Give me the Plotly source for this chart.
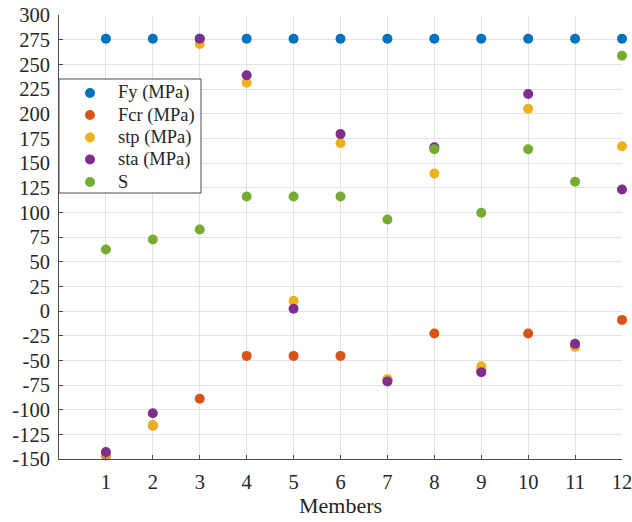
import plotly.graph_objects as go

members = list(range(1, 13))

fy = [276, 276, 276, 276, 276, 276, 276, 276, 276, 276, 276, 276]
fcr = [-146.5, -116, -89, -45.5, -45.5, -45.5, -70, -22.8, -60, -22.8, -35, -9]
stp = [-145, -115.5, 270.6, 231.4, 10.3, 170, -69, 139.4, -56, 205, -36.4, 167]
sta = [-143, -103.7, 276, 239, 2.2, 179.3, -71.5, 166, -62, 220, -33.3, 123.2]
s_vals = [62.4, 72.5, 82.6, 116, 116, 116, 92.8, 164, 99.5, 164, 131, 258.7]

y_ticks = list(range(-150, 301, 25))
y_tick_text = [str(v) for v in y_ticks]

series_names = ["Fy (MPa)", "Fcr (MPa)", "stp (MPa)", "sta (MPa)", "S"]
series_values = [fy, fcr, stp, sta, s_vals]
series_colors = ["#0072BD", "#D95319", "#EDB120", "#7E2F8E", "#77AC30"]

font_family = "Liberation Serif"
text_color = "#262626"
axis_color = "#4d4d4d"

# plot-area geometry in pixels (used to place the boxed legend)
W, H = 632, 522
M_L, M_R, M_T, M_B = 59, 10, 15, 63
plot_w = W - M_L - M_R
plot_h = H - M_T - M_B


def px_x(px):
    return (px - M_L) / plot_w


def px_y(py):
    return (H - M_B - py) / plot_h


fig = go.Figure()
for name, vals, color in zip(series_names, series_values, series_colors):
    fig.add_trace(go.Scatter(
        x=members, y=vals, mode="markers", name=name,
        marker=dict(color=color, size=10, line=dict(width=0)),
        cliponaxis=False, showlegend=False,
    ))

# compact legend box with circle glyphs and labels
shapes = [dict(
    type="rect", xref="paper", yref="paper", layer="above",
    x0=px_x(59), x1=px_x(201), y0=px_y(193), y1=px_y(79),
    fillcolor="white", line=dict(color=axis_color, width=1),
)]
annotations = []
row_y = [93, 115, 137.5, 159.5, 182]
for name, color, py in zip(series_names, series_colors, row_y):
    shapes.append(dict(
        type="circle", xref="paper", yref="paper", layer="above",
        xsizemode="pixel", ysizemode="pixel",
        xanchor=px_x(90), yanchor=px_y(py),
        x0=-5, x1=5, y0=-5, y1=5,
        fillcolor=color, line=dict(width=0),
    ))
    annotations.append(dict(
        xref="paper", yref="paper", x=px_x(116), y=px_y(py),
        xanchor="left", yanchor="middle", showarrow=False,
        text=name, font=dict(family=font_family, size=18.5, color=text_color),
    ))

fig.update_layout(
    width=W, height=H,
    margin=dict(l=M_L, r=M_R, t=M_T, b=M_B, autoexpand=False),
    paper_bgcolor="white", plot_bgcolor="white",
    font=dict(family=font_family, size=20, color=text_color),
    showlegend=False,
    shapes=shapes,
    annotations=annotations,
    xaxis=dict(
        range=[0, 12], tickvals=members,
        tickfont=dict(family=font_family, size=20.5, color=text_color),
        showgrid=True, gridcolor="#e3e3e3", gridwidth=1,
        showline=True, linecolor=axis_color, linewidth=1,
        ticks="inside", ticklen=4, tickcolor=axis_color,
        ticklabelstandoff=4, ticklabeloverflow="allow",
        automargin=False,
        zeroline=False,
        title=dict(text="Members", font=dict(family=font_family, size=22, color=text_color), standoff=2),
    ),
    yaxis=dict(
        range=[-150, 300], tickvals=y_ticks, ticktext=y_tick_text,
        tickfont=dict(family=font_family, size=20.5, color=text_color),
        showgrid=True, gridcolor="#e3e3e3", gridwidth=1,
        showline=True, linecolor=axis_color, linewidth=1,
        ticks="inside", ticklen=4, tickcolor=axis_color,
        ticklabelstandoff=4, ticklabeloverflow="allow",
        automargin=False,
        zeroline=False,
    ),
)

fig.write_html("out.html")
